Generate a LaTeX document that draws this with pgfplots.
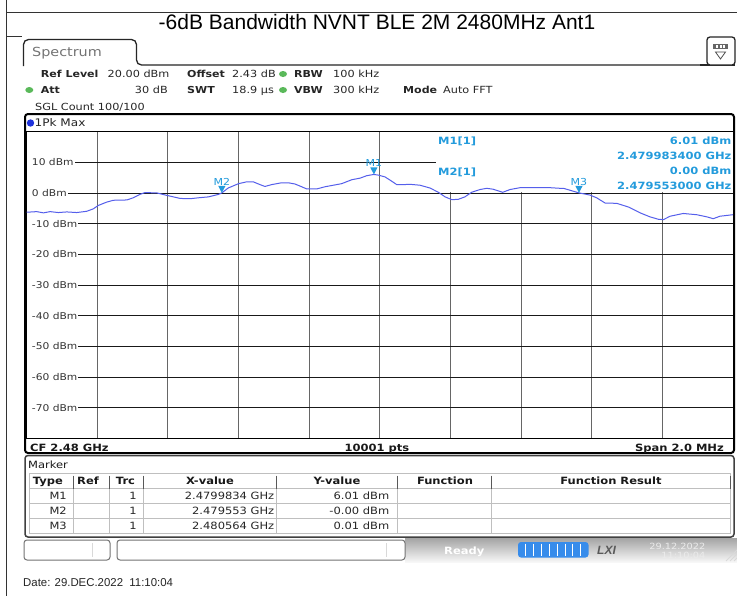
\documentclass[border=0pt]{standalone}
\usepackage{fontspec}
\usepackage{pgfplots}
\pgfplotsset{compat=1.18}
\setmainfont{DejaVu Sans}
\newfontfamily\rs{DejaVu Sans}[FakeStretch=1.15]
\newfontfamily\arialf{Liberation Sans}
\newcommand\rf[1]{\rs\fontsize{#1bp}{#1bp}\selectfont}
\newcommand\af[1]{\arialf\fontsize{#1bp}{#1bp}\selectfont}
\definecolor{trace}{RGB}{85,95,235}
\definecolor{mblue}{RGB}{35,155,220}
\definecolor{ledgreen}{RGB}{90,185,90}
\definecolor{lxblue}{RGB}{55,140,235}
\definecolor{dotblue}{RGB}{30,50,220}
\pgfdeclareplotmark{mtri}{%
  \pgfpathmoveto{\pgfpoint{0bp}{0bp}}%
  \pgfpathlineto{\pgfpoint{-3.6bp}{7bp}}%
  \pgfpathlineto{\pgfpoint{3.6bp}{7bp}}%
  \pgfpathclose\pgfusepathqfill}
\pgfplotstableread[row sep=\\]{
x y\\
-1.000 -6.3\\
-0.971 -6.1\\
-0.952 -6.5\\
-0.933 -6.1\\
-0.910 -6.4\\
-0.886 -6.2\\
-0.858 -6.4\\
-0.830 -6.0\\
-0.811 -5.2\\
-0.797 -4.1\\
-0.773 -3.0\\
-0.754 -2.4\\
-0.716 -2.3\\
-0.698 -1.6\\
-0.679 -0.5\\
-0.665 0.1\\
-0.631 0.0\\
-0.603 -0.8\\
-0.565 -1.8\\
-0.537 -1.9\\
-0.514 -1.6\\
-0.485 -1.3\\
-0.457 -0.5\\
-0.447 0.0\\
-0.429 1.6\\
-0.400 3.0\\
-0.377 3.6\\
-0.358 3.6\\
-0.339 2.7\\
-0.325 2.1\\
-0.306 2.7\\
-0.278 3.3\\
-0.259 3.3\\
-0.240 2.9\\
-0.221 2.0\\
-0.207 1.3\\
-0.178 1.3\\
-0.155 2.0\\
-0.127 2.6\\
-0.108 3.0\\
-0.079 4.3\\
-0.056 4.8\\
-0.037 5.6\\
-0.017 6.01\\
-0.004 5.8\\
0.015 5.2\\
0.034 3.8\\
0.048 2.7\\
0.067 2.7\\
0.086 2.8\\
0.114 2.5\\
0.142 1.6\\
0.166 0.2\\
0.185 -1.3\\
0.204 -2.2\\
0.222 -2.1\\
0.241 -1.3\\
0.260 0.2\\
0.284 1.1\\
0.303 1.5\\
0.321 1.2\\
0.348 0.2\\
0.369 1.1\\
0.397 1.7\\
0.444 1.7\\
0.482 1.7\\
0.510 1.5\\
0.520 1.5\\
0.564 0.0\\
0.595 -0.7\\
0.614 -1.6\\
0.638 -3.3\\
0.671 -3.4\\
0.704 -4.6\\
0.737 -6.5\\
0.765 -7.8\\
0.789 -8.6\\
0.803 -8.7\\
0.822 -7.6\\
0.859 -6.7\\
0.897 -7.1\\
0.926 -7.8\\
0.944 -8.4\\
0.963 -7.6\\
1.000 -7.1\\
}\tracedata
\begin{document}
\begin{tikzpicture}
\useasboundingbox (0,0) rectangle (737bp,-596bp);
\begin{scope}[x=1bp,y=-1bp]
\fill[white] (0,0) rectangle (737,596);
\draw[black!80, line width=1bp] (6,0) -- (6,596);
\draw[black!80, line width=1bp] (6,12) -- (737,12);
\draw[black!80, line width=1bp] (6,36) -- (22,36);
\node[anchor=base, font=\af{21}, inner sep=0] at (377,29.3) {-6dB Bandwidth NVNT BLE 2M 2480MHz Ant1};
% tab
\draw[black!85, line width=1.3bp, rounded corners=5bp] (23.5,66) -- (23.5,39.5) -- (136.5,39.5) -- (136.5,65) -- (710,65);
\draw[black!85, line width=1.3bp] (700,65) -- (735,65);
\node[anchor=base west, font=\rf{12.5}, text=black!55, inner sep=0] at (32,56.5) {Spectrum};
\draw[black!85, line width=1.3bp, rounded corners=3bp, fill=white] (707,37) rectangle (735,65);
\fill[black!60] (713,44) rectangle (728,49);
\fill[white] (716,45.3) rectangle (718,47.7);
\fill[white] (719.5,45.3) rectangle (721.5,47.7);
\fill[white] (723,45.3) rectangle (725,47.7);
\draw[black!70, line width=0.8bp] (715.5,52) -- (725.5,52) -- (720.5,59) -- cycle;
% header
\begin{scope}[every node/.style={anchor=base west, inner sep=0, text=black!85}]
\node[font={\rf{9.6}\bfseries}] at (40.7,77.5) {Ref Level};
\node[font=\rf{9.8}] at (107.5,77.5) {20.00 dBm};
\node[font={\rf{9.6}\bfseries}] at (187,77.5) {Offset};
\node[font=\rf{9.8}] at (232,77.5) {2.43 dB};
\node[font={\rf{9.6}\bfseries}] at (294,77.5) {RBW};
\node[font=\rf{9.8}] at (333,77.5) {100 kHz};
\node[font={\rf{9.6}\bfseries}] at (40.7,93.5) {Att};
\node[font=\rf{9.8}, anchor=base east] at (168,93.5) {30 dB};
\node[font={\rf{9.6}\bfseries}] at (187,93.5) {SWT};
\node[font=\rf{9.8}] at (232,93.5) {18.9 µs};
\node[font={\rf{9.6}\bfseries}] at (294,93.5) {VBW};
\node[font=\rf{9.8}] at (333,93.5) {300 kHz};
\node[font={\rf{9.6}\bfseries}] at (403,93.5) {Mode};
\node[font=\rf{9.8}] at (443,93.5) {Auto FFT};
\node[font=\rf{9.8}] at (35,110) {SGL Count 100/100};
\end{scope}
\fill[ledgreen] (283,74) ellipse [x radius=4bp, y radius=3bp];
\fill[ledgreen] (283,90) ellipse [x radius=4bp, y radius=3bp];
\fill[ledgreen] (29.3,90) ellipse [x radius=4bp, y radius=3bp];
% panel
\draw[black, line width=2bp, rounded corners=3bp] (25,114) rectangle (734,453);
\fill[dotblue] (30.5,123) circle (3.7bp);
\node[anchor=base west, inner sep=0, font=\rf{10.5}, text=black!85] at (34.5,126.7) {1Pk Max};
\end{scope}
\begin{axis}[at={(26.5bp,-438.5bp)}, anchor=south west, scale only axis,
 width=706.5bp, height=307bp, xmin=-1, xmax=1, ymin=-80, ymax=20,
 xtick={-0.8,-0.6,-0.4,-0.2,0,0.2,0.4,0.6,0.8},
 ytick={-70,-60,-50,-40,-30,-20,-10,0,10},
 xticklabels={}, yticklabels={}, major tick length=0pt,
 xmajorgrids, ymajorgrids,
 x grid style={black!60, line width=0.9bp},
 y grid style={black!90, line width=0.8bp},
 axis line style={black, line width=1bp},
]
\fill[white] (axis cs:0.1593,19.84) rectangle (axis cs:0.9986,0.45);
\addplot[trace, line width=1bp] table {\tracedata};
\addplot[only marks, mark=mtri, mblue, point meta=explicit symbolic, nodes near coords,
  nodes near coords style={anchor=south, yshift=7bp, inner sep=0.5bp, font=\rf{9.6}, text=mblue}]
  coordinates {(-0.0166,6.01)[M1] (-0.447,0)[M2] (0.564,0.01)[M3]};
\end{axis}
\begin{scope}[x=1bp,y=-1bp]
% y labels
\begin{scope}[every node/.style={anchor=west, fill=white, inner xsep=1bp, inner ysep=0.6bp, font=\rf{9.3}, text=black!80}]
\node at (27.3,162.2) {\hspace{3.5bp}10 dBm};
\node at (27.3,192.9) {\hspace{3.5bp}0 dBm};
\node at (27.3,223.6) {\hspace{3.5bp}-10 dBm};
\node at (27.3,254.3) {\hspace{3.5bp}-20 dBm};
\node at (27.3,285.0) {\hspace{3.5bp}-30 dBm};
\node at (27.3,315.7) {\hspace{3.5bp}-40 dBm};
\node at (27.3,346.4) {\hspace{3.5bp}-50 dBm};
\node at (27.3,377.1) {\hspace{3.5bp}-60 dBm};
\node at (27.3,407.8) {\hspace{3.5bp}-70 dBm};
\end{scope}
% marker info
\begin{scope}[every node/.style={inner sep=0, font={\rf{10}\bfseries}, text=mblue}]
\node[anchor=base west] at (438,144.5) {M1[1]};
\node[anchor=base west] at (438,175) {M2[1]};
\node[anchor=base east] at (731.5,144.5) {6.01 dBm};
\node[anchor=base east] at (731.5,159.5) {2.479983400 GHz};
\node[anchor=base east] at (731.5,174.5) {0.00 dBm};
\node[anchor=base east] at (731.5,189.5) {2.479553000 GHz};
\end{scope}
% bottom row
\begin{scope}[every node/.style={inner sep=0, font={\rf{10}\bfseries}, text=black!90}]
\node[anchor=base west] at (30,451) {CF 2.48 GHz};
\node[anchor=base] at (377,451) {10001 pts};
\node[anchor=base east] at (724,451) {Span 2.0 MHz};
\end{scope}
% marker panel
\draw[black!75, line width=1.5bp, rounded corners=3bp] (25,455.5) rectangle (734,537);
\node[anchor=base west, inner sep=0, font=\rf{10}, text=black!90] at (28,468.5) {Marker};
\draw[black!25, line width=0.8bp] (29,473) rectangle (730.3,533);
\foreach \yy in {488.5,503.3,518.2} \draw[black!25, line width=0.8bp] (29,\yy) -- (730.3,\yy);
\foreach \xx in {73.3,109.3,143.3,276,397.7,491.3} {
  \draw[black!25, line width=0.8bp] (\xx,488.5) -- (\xx,533);
  \draw[black!65, line width=1bp] (\xx,475.5) -- (\xx,488.5);
}
\draw[black!65, line width=1bp] (730.3,475.5) -- (730.3,488.5);
\begin{scope}[every node/.style={inner sep=0, anchor=base, font={\rf{10}\bfseries}, text=black!90}]
\node at (48,484.5) {Type};
\node at (88,484.5) {Ref};
\node at (125.5,484.5) {Trc};
\node at (210,484.5) {X-value};
\node at (337,484.5) {Y-value};
\node at (445,484.5) {Function};
\node at (611,484.5) {Function Result};
\end{scope}
\begin{scope}[every node/.style={inner sep=0, anchor=base east, font=\rf{10}, text=black!85}]
\node at (67,499.6) {M1};
\node at (67,514.5) {M2};
\node at (67,529.3) {M3};
\node at (137,499.6) {1};
\node at (137,514.5) {1};
\node at (137,529.3) {1};
\node at (274.5,499.6) {2.4799834 GHz};
\node at (274.5,514.5) {2.479553 GHz};
\node at (274.5,529.3) {2.480564 GHz};
\node at (389.5,499.6) {6.01 dBm};
\node at (389.5,514.5) {-0.00 dBm};
\node at (389.5,529.3) {0.01 dBm};
\end{scope}
% status bar
\shade[top color=black!35, bottom color=black!3] (405,538.5) rectangle (737,562);
\draw[black!55, line width=1bp, rounded corners=3bp, fill=white] (24,540) rectangle (110,560);
\draw[black!55, line width=1bp, rounded corners=3bp, fill=white] (117,540) rectangle (405,560);
\draw[black!15] (92,543) -- (92,557);
\draw[black!15] (386,543) -- (386,557);
\node[anchor=base west, inner sep=0, font={\rf{10}\bfseries}, text=white] at (444,554) {Ready};
\fill[lxblue, rounded corners=3bp] (518,542) rectangle (588.5,557.5);
\foreach \k in {1,...,8} \draw[white, line width=0.8bp] ({518+\k*7.83},543.5) -- ({518+\k*7.83},556);
\node[anchor=base west, inner sep=0, font={\af{12}\bfseries\itshape}, text=black!65] at (597,554) {LXI};
\node[anchor=base east, inner sep=0, font=\rf{8.5}, text=white!92!black] at (705.5,549.3) {29.12.2022};
\node[anchor=base east, inner sep=0, font=\rf{8.5}, text=white!92!black] at (705.5,558.3) {11:10:04};
\foreach \d in {3,7,11} \draw[white!85!black, line width=0.8bp] (737-\d,561) -- (737,561-\d);
% date
\node[anchor=base west, inner sep=0, font=\af{11.4}, text=black!85] at (23,586.5) {Date: 29.DEC.2022\ \ 11:10:04};
\end{scope}
\end{tikzpicture}
\end{document}
